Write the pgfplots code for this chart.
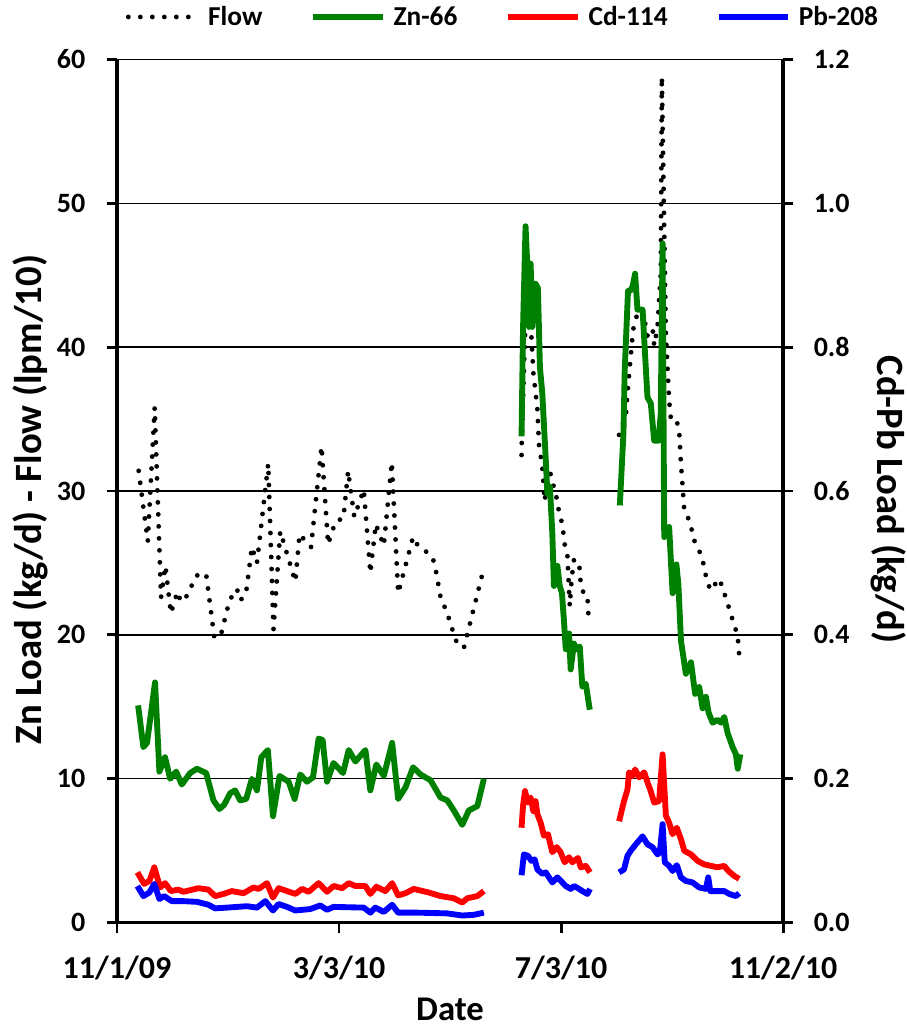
\documentclass[border=0pt]{standalone}
\usepackage{pgfplots}
\pgfplotsset{compat=1.18}
\usepackage{pgfplotstable}
\usepackage{fontspec}
\setmainfont{Carlito}
\definecolor{zngreen}{RGB}{0,128,0}
\definecolor{cdred}{RGB}{255,0,0}
\definecolor{pbblue}{RGB}{0,0,255}

% day 0 = 11/1/09
\pgfplotstableread{
d v
11.9 31.4
16.9 26.5
20.7 35.8
24.2 22.6
26.6 24.8
29.6 21.5
33.2 23.0
35.1 22.3
39.1 22.8
42.8 24.0
45.7 24.3
49.0 24.2
53.5 19.8
57.1 20.0
61.8 22.4
65.9 23.2
67.7 22.4
70.8 22.8
74.1 26.1
76.9 25.0
83.1 31.9
86.0 20.4
89.7 27.2
98.0 23.7
100.3 27.0
106.6 26.1
112.4 33.1
116.0 26.3
120.1 27.9
124.4 28.1
127.0 31.4
130.4 28.2
135.6 30.1
139.2 24.3
142.2 27.7
146.6 26.2
151.0 32.0
154.5 22.9
162.7 26.8
165.8 26.1
172.3 25.6
174.5 25.0
178.1 22.4
181.1 21.7
182.9 20.9
186.9 19.4
190.6 19.1
201.3 24.5
}\flowA
\pgfplotstableread{
d v
222.3 32.5
222.4 33.3
224.0 40.0
225.3 44.5
227.8 40.6
228.8 38.2
231.0 35.7
231.9 33.2
233.7 31.7
235.0 29.3
237.4 31.6
242.0 29.3
242.9 28.5
244.7 27.7
246.0 26.3
247.5 25.5
248.8 22.0
249.9 24.0
251.1 25.2
253.9 25.1
254.8 23.6
256.6 22.8
258.5 22.7
259.0 21.5
}\flowB
\pgfplotstableread{
d v
275.9 33.9
279.6 35.2
280.5 36.8
283.3 40.8
284.1 41.6
286.0 42.3
288.8 42.6
291.5 40.8
294.3 41.3
295.2 40.1
297.0 41.4
298.8 45.1
299.4 58.8
300.5 50.0
301.6 40.9
303.4 36.3
304.3 35.1
307.1 35.1
308.9 34.2
309.9 31.9
310.8 30.3
311.7 28.7
315.4 27.7
316.3 26.8
319.0 26.1
321.8 25.3
322.7 24.5
326.0 23.1
331.0 23.9
333.7 22.9
335.5 22.2
337.4 21.4
339.2 20.7
341.1 19.9
342.0 18.4
}\flowC

\pgfplotstableread{
d v
11.6 15.1
14.5 12.2
16.5 12.5
20.9 16.7
23.3 10.5
26.4 11.5
29.2 10.0
32.5 10.5
35.6 9.6
40.2 10.4
43.9 10.7
49.0 10.4
53.0 8.5
56.3 7.9
58.9 8.2
62.2 9.0
64.9 9.2
67.7 8.5
71.0 8.6
74.1 10.0
76.9 9.2
79.3 11.5
82.9 12.0
85.7 7.4
89.3 10.2
94.3 9.8
97.6 8.6
100.7 10.3
104.4 9.8
107.7 10.1
110.8 12.8
113.0 12.7
115.4 9.8
119.0 11.1
124.2 10.4
127.3 12.0
131.0 11.2
136.5 12.0
139.2 9.2
142.5 11.0
146.6 10.2
151.2 12.5
154.5 8.6
158.5 9.4
162.7 10.8
166.8 10.3
172.3 9.9
177.8 8.7
181.5 8.5
185.1 7.8
189.7 6.8
193.3 7.8
198.0 8.1
201.6 10.0
}\znA
\pgfplotstableread{
d v
222.3 33.8
223.1 41.2
224.5 48.4
225.5 45.6
226.4 41.4
227.3 45.8
228.2 41.4
230.0 44.4
231.3 44.1
232.4 38.6
233.7 36.8
235.6 32.2
236.5 29.8
237.9 30.3
239.2 27.1
240.1 23.4
242.0 24.8
243.3 23.4
244.5 22.9
245.6 21.0
246.6 19.0
248.4 20.1
249.3 17.6
251.1 19.4
252.4 19.0
254.3 19.2
255.7 16.4
257.6 16.6
259.8 14.8
}\znB
\pgfplotstableread{
d v
276.3 29.0
278.3 34.0
279.0 38.4
280.8 43.9
281.9 43.9
283.3 44.2
284.7 45.1
286.0 42.6
288.8 42.6
291.5 36.5
293.3 36.1
295.2 33.5
297.6 33.5
298.8 35.4
299.8 47.2
300.7 26.8
301.6 27.0
303.4 27.5
305.3 22.9
307.4 24.9
308.5 23.5
309.9 19.6
312.6 17.3
315.4 18.1
317.7 15.9
319.9 16.4
321.8 14.9
323.6 15.7
325.1 14.6
327.3 13.9
330.0 14.1
331.9 13.9
333.7 14.3
335.5 13.2
338.3 12.2
340.1 11.7
341.1 10.7
342.5 11.7
}\znC

\pgfplotstableread{
d v
11.2 0.070
14.9 0.054
17.8 0.058
20.5 0.077
23.7 0.049
26.4 0.055
29.6 0.044
33.7 0.046
36.5 0.043
44.7 0.048
50.2 0.046
53.9 0.037
58.5 0.040
63.1 0.044
69.5 0.041
75.0 0.049
77.8 0.047
82.4 0.055
85.7 0.035
88.8 0.048
93.4 0.044
98.0 0.040
101.7 0.047
105.3 0.043
110.8 0.055
115.4 0.043
119.0 0.051
123.7 0.048
127.3 0.055
131.0 0.051
136.5 0.051
139.2 0.040
142.5 0.050
147.5 0.044
151.2 0.055
154.5 0.038
158.5 0.041
163.1 0.047
171.3 0.042
177.8 0.037
185.1 0.034
189.7 0.028
192.5 0.034
198.0 0.037
201.6 0.044
}\cdA
\pgfplotstableread{
d v
222.3 0.132
223.1 0.162
224.2 0.183
225.8 0.167
227.3 0.174
228.8 0.155
230.0 0.169
231.0 0.151
232.8 0.139
234.6 0.121
236.8 0.123
239.2 0.098
241.6 0.105
243.8 0.098
246.0 0.084
248.4 0.091
250.2 0.084
253.3 0.090
254.8 0.077
257.6 0.079
259.9 0.070
}\cdB
\pgfplotstableread{
d v
275.9 0.141
278.6 0.169
280.5 0.185
281.4 0.209
283.3 0.204
284.7 0.213
286.9 0.202
289.7 0.209
291.5 0.195
293.0 0.185
295.2 0.167
297.9 0.169
299.8 0.234
301.6 0.149
303.4 0.139
305.3 0.123
307.6 0.132
309.9 0.116
311.7 0.100
315.4 0.095
319.0 0.086
322.7 0.081
326.4 0.079
330.0 0.077
333.7 0.079
335.9 0.072
339.2 0.065
341.9 0.061
}\cdC

\pgfplotstableread{
d v
11.2 0.051
14.5 0.037
17.8 0.042
20.5 0.054
23.3 0.033
25.9 0.037
30.1 0.030
36.5 0.030
43.9 0.029
50.2 0.025
53.9 0.020
60.4 0.021
71.4 0.023
76.9 0.021
81.5 0.030
85.7 0.017
88.8 0.026
93.4 0.022
98.0 0.017
106.2 0.019
111.7 0.024
115.4 0.018
119.0 0.022
135.6 0.021
139.2 0.014
142.0 0.021
146.6 0.015
151.2 0.025
154.5 0.014
164.9 0.014
181.5 0.013
189.7 0.010
196.1 0.011
201.6 0.014
}\pbA
\pgfplotstableread{
d v
222.3 0.066
223.6 0.095
225.8 0.093
227.7 0.086
229.5 0.088
231.0 0.074
233.7 0.068
235.6 0.070
237.4 0.063
239.2 0.056
242.0 0.063
244.7 0.056
246.6 0.051
249.3 0.047
251.1 0.051
253.3 0.048
255.7 0.044
258.5 0.040
259.9 0.047
}\pbB
\pgfplotstableread{
d v
275.9 0.070
278.6 0.074
280.5 0.093
282.3 0.100
285.1 0.109
288.8 0.120
291.5 0.109
294.3 0.105
297.0 0.095
298.3 0.098
299.8 0.137
301.0 0.084
303.4 0.079
305.3 0.072
307.6 0.080
309.9 0.063
312.6 0.058
316.3 0.056
319.9 0.049
323.6 0.047
324.9 0.063
326.0 0.044
330.0 0.044
333.7 0.044
336.4 0.040
340.1 0.037
341.9 0.041
}\pbC

\pgfplotsset{
  common/.style={
    scale only axis, width=499.5pt, height=647.55pt,
    xmin=0, xmax=366,
    tick align=outside, major tick length=7.5pt,
    axis line style={-, line width=2.6pt},
    every tick/.style={line width=2.2pt, black},
    tick label style={font=\bfseries\fontsize{21}{25}\selectfont},
    /pgf/number format/assume math mode=true,
  },
  flowline/.style={black, line width=3.6pt, line cap=round, dash pattern=on 0pt off 9pt},
  znline/.style={zngreen, line width=4.4pt, line join=round},
  cdline/.style={cdred, line width=4.4pt, line join=round},
  pbline/.style={pbblue, line width=4.4pt, line join=round},
}

\begin{document}
\begin{tikzpicture}
\useasboundingbox (-87.75pt,-81.2pt) rectangle (591.75pt,692pt);
\begin{axis}[common,
  ymin=0, ymax=60, ytick={0,10,20,30,40,50,60},
  axis y line*=left, axis x line*=bottom,
  xtick={0,122,244,366},
  xticklabels={11/1/09,3/3/10,7/3/10,11/2/10},
  xticklabel style={font=\bfseries\fontsize{24}{28}\selectfont, yshift=-14pt},
  yticklabel style={xshift=-12.75pt},
  ymajorgrids, major grid style={black, line width=0.9pt},
  xlabel={Date},
  ylabel={Zn Load (kg/d) - Flow (lpm/10)},
  every axis x label/.style={at={(axis description cs:0.5,-0.1)}, anchor=center, font=\bfseries\fontsize{26}{30}\selectfont},
  every axis y label/.style={at={(axis description cs:-0.13,0.49)}, rotate=90, anchor=center, font=\bfseries\fontsize{29}{34}\selectfont},
]
\addplot[flowline] table[x=d,y=v] {\flowA};
\addplot[flowline] table[x=d,y=v] {\flowB};
\addplot[flowline] table[x=d,y=v] {\flowC};
\addplot[znline] table[x=d,y=v] {\znA};
\addplot[znline] table[x=d,y=v] {\znB};
\addplot[znline] table[x=d,y=v] {\znC};
\end{axis}
\begin{axis}[common,
  ymin=0, ymax=1.2, ytick={0,0.2,0.4,0.6,0.8,1.0,1.2},
  /pgf/number format/fixed, /pgf/number format/fixed zerofill, /pgf/number format/precision=1,
  yticklabel style={xshift=12pt},
  axis y line*=right, axis x line=none,
  ylabel={Cd-Pb Load (kg/d)},
  every axis y label/.style={at={(axis description cs:1.158,0.49)}, rotate=-90, anchor=center, font=\bfseries\fontsize{29}{34}\selectfont},
  legend columns=4,
  legend style={at={(0.58,1.049)}, anchor=center, draw=none, fill=none,
    font=\bfseries\fontsize{20.5}{24}\selectfont,
    /tikz/every odd column/.append style={column sep=4pt},
    /tikz/every even column/.append style={column sep=34pt}},
  legend image code/.code={\draw[#1] (0pt,0pt) -- (52pt,0pt);},
]
\addlegendimage{black, line width=3.6pt, line cap=round, dash pattern=on 0pt off 9pt}
\addlegendentry{Flow}
\addlegendimage{znline}
\addlegendentry{Zn-66}
\addplot[cdline] table[x=d,y=v] {\cdA};
\addlegendentry{Cd-114}
\addplot[cdline, forget plot] table[x=d,y=v] {\cdB};
\addplot[cdline, forget plot] table[x=d,y=v] {\cdC};
\addplot[pbline] table[x=d,y=v] {\pbA};
\addlegendentry{Pb-208}
\addplot[pbline, forget plot] table[x=d,y=v] {\pbB};
\addplot[pbline, forget plot] table[x=d,y=v] {\pbC};
\end{axis}
\end{tikzpicture}
\end{document}
